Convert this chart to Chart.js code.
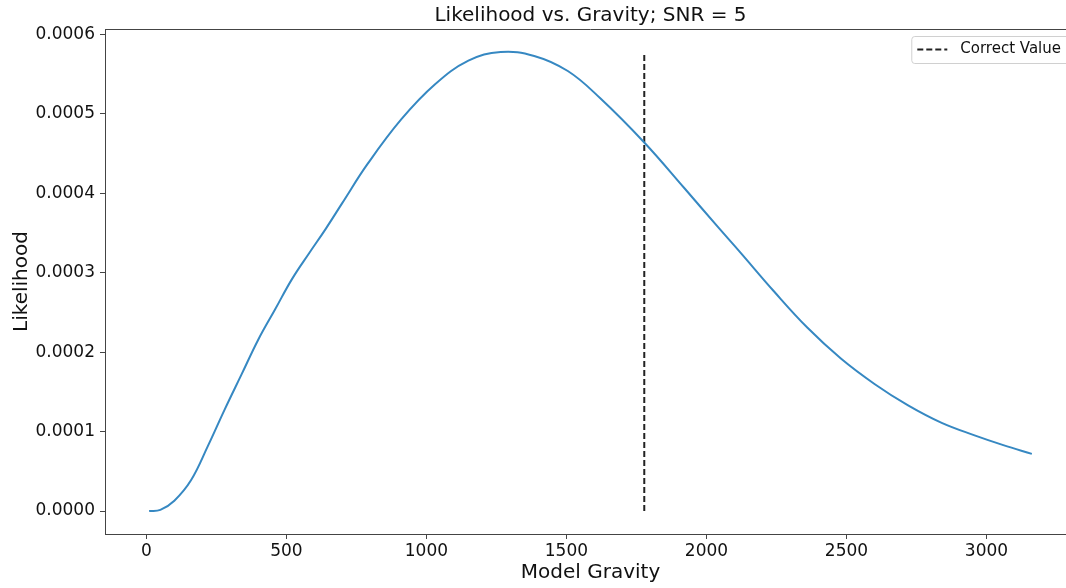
<!DOCTYPE html>
<html>
<head>
<meta charset="utf-8">
<script src="https://cdn.jsdelivr.net/npm/chart.js@4/dist/chart.umd.min.js"></script>
<style>
  html, body { margin: 0; padding: 0; background: #fff; }
  #wrap { width: 1066px; height: 588px; overflow: hidden; }
  #wrap div { width: 1076px; height: 588px; }
</style>
</head>
<body>
<div id="wrap"><div><canvas id="canvasOne"></canvas></div></div>
<script>
// model gravity grid and likelihood at SNR = 5
let gravity = [10, 50, 100, 160, 220, 280, 340, 400, 460, 520, 580, 640, 700, 790, 910, 1030, 1150, 1265,
  1385, 1505, 1620, 1778, 1920, 2040, 2120, 2240, 2360, 2480, 2600, 2720, 2840, 2960, 3060, 3162];
let likelihood = [0, 0.0000015, 0.000013, 0.000039, 0.000082, 0.000128, 0.000172, 0.000216, 0.000254,
  0.000292, 0.000324, 0.000355, 0.000388, 0.000437, 0.000493, 0.000537, 0.000567, 0.000578,
  0.000573, 0.000554, 0.000520, 0.000464, 0.000407, 0.000358, 0.000326, 0.000277, 0.000231,
  0.000192, 0.000160, 0.000133, 0.000111, 0.000095, 0.000083, 0.000072];
let correctGravity = 1778;

let xTicks = [0, 500, 1000, 1500, 2000, 2500, 3000];
let yTicks = [0, 0.0001, 0.0002, 0.0003, 0.0004, 0.0005, 0.0006];

let font = 'DejaVu Sans';
let ink = '#111';
let spine = '#444';

let curve = [];
for (i in gravity) {
  curve.push({x: gravity[i], y: likelihood[i]});
}
let peak = Math.max(...likelihood);

// matplotlib style 5% margins around the data
let xSpan = gravity[gravity.length - 1] - gravity[0];
let ySpan = peak - 0;

// top spine and the legend box
let frame = {
  id: 'frame',
  afterDraw(chart) {
    let c = chart.ctx;
    let a = chart.chartArea;
    c.save();
    c.strokeStyle = spine;
    c.lineWidth = 1;
    c.beginPath();
    c.moveTo(a.left, a.top + 0.5);
    c.lineTo(a.right, a.top + 0.5);
    c.stroke();

    let ds = chart.data.datasets[1];
    c.font = '15px "' + font + '"';
    let tw = c.measureText(ds.label).width;
    let h = 27;
    let w = 6 + 30 + 13 + tw + 8;
    let x = a.right - 7 - w;
    let y = a.top + 7;
    c.fillStyle = 'rgba(255,255,255,0.8)';
    c.strokeStyle = '#d0d0d0';
    c.beginPath();
    c.roundRect(x + 0.5, y + 0.5, w, h, 3);
    c.fill();
    c.stroke();

    c.strokeStyle = ds.borderColor;
    c.lineWidth = ds.borderWidth;
    c.setLineDash(ds.borderDash);
    c.beginPath();
    c.moveTo(x + 6, y + h / 2);
    c.lineTo(x + 36, y + h / 2);
    c.stroke();
    c.setLineDash([]);

    c.fillStyle = ink;
    c.textBaseline = 'middle';
    c.fillText(ds.label, x + 49, y + h / 2);
    c.restore();
  }
};

let ctx = document.getElementById('canvasOne').getContext('2d');

let oneChart = new Chart(ctx, {
  type: 'line',
  data: {
    datasets: [{
      label: 'Likelihood',
      data: curve,
      borderColor: '#3688c2',
      borderWidth: 2,
      pointRadius: 0,
      tension: 0.4,
      fill: false
    }, {
      label: 'Correct Value',
      data: [{x: correctGravity, y: 0}, {x: correctGravity, y: peak}],
      borderColor: '#222',
      borderWidth: 2,
      borderDash: [6, 3],
      pointRadius: 0,
      fill: false
    }]
  },
  plugins: [frame],
  options: {
    responsive: true,
    maintainAspectRatio: false,
    animation: false,
    layout: {padding: 0},
    plugins: {
      legend: {display: false},
      tooltip: {enabled: false},
      title: {
        display: true,
        fullSize: false,
        text: 'Likelihood vs. Gravity; SNR = 5',
        color: ink,
        font: {family: font, size: 20, weight: 'normal'},
        padding: {top: 4, bottom: 1}
      }
    },
    scales: {
      x: {
        type: 'linear',
        min: gravity[0] - 0.05 * xSpan,
        max: gravity[gravity.length - 1] + 0.05 * xSpan,
        afterBuildTicks: (s) => { s.ticks = xTicks.map(v => ({value: v})); },
        afterFit: (s) => { s.height = 54; },
        border: {display: true, color: spine, width: 1},
        grid: {drawOnChartArea: false, drawTicks: true, tickLength: 5, color: spine},
        ticks: {
          color: ink, padding: 2, maxRotation: 0,
          font: {family: font, size: 17},
          callback: (v) => String(v)
        },
        title: {
          display: true, text: 'Model Gravity', color: ink,
          font: {family: font, size: 20}, padding: {top: 0, bottom: 3}
        }
      },
      y: {
        min: 0 - 0.05 * ySpan,
        max: peak + 0.05 * ySpan,
        afterBuildTicks: (s) => { s.ticks = yTicks.map(v => ({value: v})); },
        afterFit: (s) => { s.width = 105; },
        border: {display: true, color: spine, width: 1},
        grid: {drawOnChartArea: false, drawTicks: true, tickLength: 5, color: spine},
        ticks: {
          color: ink, padding: 5,
          font: {family: font, size: 17},
          callback: (v) => v.toFixed(4)
        },
        title: {
          display: true, text: 'Likelihood', color: ink,
          font: {family: font, size: 20}, padding: {top: 10, bottom: 0}
        }
      }
    }
  }
});
</script>
</body>
</html>
